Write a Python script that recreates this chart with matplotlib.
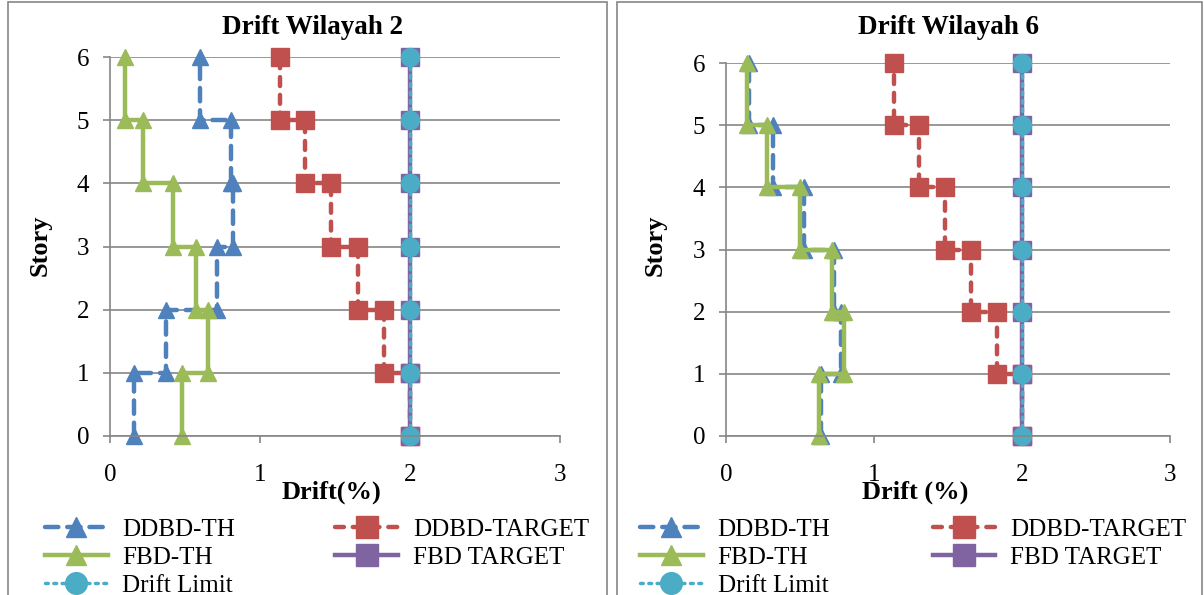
import matplotlib
matplotlib.use('Agg')
import matplotlib.pyplot as plt
from matplotlib.patches import Rectangle

# data: each series is a step profile (drift %, story)
stories_step = [0, 1, 1, 2, 2, 3, 3, 4, 4, 5, 5, 6]
stories_full = [0, 1, 2, 3, 4, 5, 6]

# Wilayah 2
w2_ddbd_th = [0.16, 0.16, 0.375, 0.375, 0.71, 0.71, 0.82, 0.82, 0.805, 0.805, 0.60, 0.60]
w2_fbd_th = [0.48, 0.48, 0.65, 0.65, 0.57, 0.57, 0.42, 0.42, 0.22, 0.22, 0.10, 0.10]
w2_ddbd_target = [2.0, 2.0, 1.825, 1.825, 1.65, 1.65, 1.475, 1.475, 1.30, 1.30, 1.13, 1.13]

# Wilayah 6
w6_ddbd_th = [0.64, 0.64, 0.78, 0.78, 0.73, 0.73, 0.525, 0.525, 0.315, 0.315, 0.155, 0.155]
w6_fbd_th = [0.63, 0.63, 0.80, 0.80, 0.715, 0.715, 0.50, 0.50, 0.28, 0.28, 0.14, 0.14]
w6_ddbd_target = [2.0, 2.0, 1.83, 1.83, 1.655, 1.655, 1.48, 1.48, 1.305, 1.305, 1.133, 1.133]

fbd_target = [2.0] * 7
drift_limit = [2.0] * 7

C_BLUE = '#4F81BD'
C_RED = '#C0504D'
C_GREEN = '#9BBB59'
C_PURPLE = '#8064A2'
C_CYAN = '#4BACC6'
GRID = '#868686'

plt.rcParams['font.family'] = ['Liberation Serif', 'DejaVu Serif']

W, H = 1204, 595
fig = plt.figure(figsize=(W / 100, H / 100), dpi=100)


def fx(px):
    return px / W


def fy(py):
    return 1 - py / H


def draw_panel(box, ax_px, title, title_x, xlabel, xlabel_x, ylabel_x,
               ddbd_th, fbd_th, ddbd_target, legend_x, colspace):
    # panel border
    x0, x1 = box
    fig.patches.append(Rectangle((fx(x0), fy(600)), fx(x1 - x0), fy(2) - fy(600),
                                 transform=fig.transFigure, fill=False,
                                 edgecolor=GRID, lw=1.2))
    l, r, t, b = ax_px
    ax = fig.add_axes([fx(l), fy(b), fx(r - l), fy(t) - fy(b)])
    ax.set_xlim(0, 3)
    ax.set_ylim(0, 6)
    ax.set_xticks([0, 1, 2, 3])
    ax.set_yticks(range(7))
    for s in ['top', 'right']:
        ax.spines[s].set_visible(False)
    for s in ['left', 'bottom']:
        ax.spines[s].set_color(GRID)
        ax.spines[s].set_linewidth(1.2)
    ax.tick_params(axis='both', direction='out', length=5, color=GRID,
                   labelsize=18, width=1.2)
    ax.tick_params(axis='y', pad=10)
    ax.tick_params(axis='x', pad=15)
    ax.grid(axis='y', color=GRID, lw=1.2)
    ax.set_axisbelow(True)

    h1, = ax.plot(ddbd_th, stories_step, color=C_BLUE, lw=3.2, ls=(0, (3, 2)),
                  dash_capstyle='round', marker='^', ms=12, clip_on=False,
                  label='DDBD-TH')
    h2, = ax.plot(ddbd_target, stories_step, color=C_RED, lw=3.2, ls=(0, (2, 2)),
                  dash_capstyle='round', marker='s', ms=13, clip_on=False,
                  label='DDBD-TARGET')
    h3, = ax.plot(fbd_th, stories_step, color=C_GREEN, lw=3.2, ls='-',
                  marker='^', ms=12, clip_on=False, label='FBD-TH')
    h4, = ax.plot(fbd_target, stories_full, color=C_PURPLE, lw=3.2, ls='-',
                  marker='s', ms=13, clip_on=False, label='FBD TARGET')
    h5, = ax.plot(drift_limit, stories_full, color=C_CYAN, lw=2.5, ls=(0, (0.8, 1.6)),
                  dash_capstyle='round', marker='o', ms=13, clip_on=False,
                  label='Drift Limit')

    fig.text(fx(title_x), fy(28), title, ha='center', va='center',
             fontsize=19.5, fontweight='bold')
    fig.text(fx(xlabel_x), fy(492), xlabel, ha='center', va='center',
             fontsize=19, fontweight='bold')
    fig.text(fx(ylabel_x), fy(245), 'Story', ha='center', va='center',
             fontsize=19, fontweight='bold', rotation=90)

    fig.legend([h1, h3, h5, h2, h4],
               ['DDBD-TH', 'FBD-TH', 'Drift Limit', 'DDBD-TARGET', 'FBD TARGET'],
               loc='upper left', bbox_to_anchor=(fx(legend_x), fy(518)),
               ncol=2, frameon=False, fontsize=18, handlelength=2.5,
               handletextpad=0.6, labelspacing=0.22, columnspacing=colspace,
               borderpad=0, borderaxespad=0, markerscale=1.2)
    return ax


draw_panel((8, 607), (110, 560, 57, 436), 'Drift Wilayah 2', 312,
           'Drift(%)', 331, 40, w2_ddbd_th, w2_fbd_th, w2_ddbd_target, 45, 4.0)
draw_panel((617, 1202), (726, 1170, 63, 436), 'Drift Wilayah 6', 949,
           'Drift (%)', 915, 655, w6_ddbd_th, w6_fbd_th, w6_ddbd_target, 640, 4.1)

fig.savefig('out.png', dpi=100)
